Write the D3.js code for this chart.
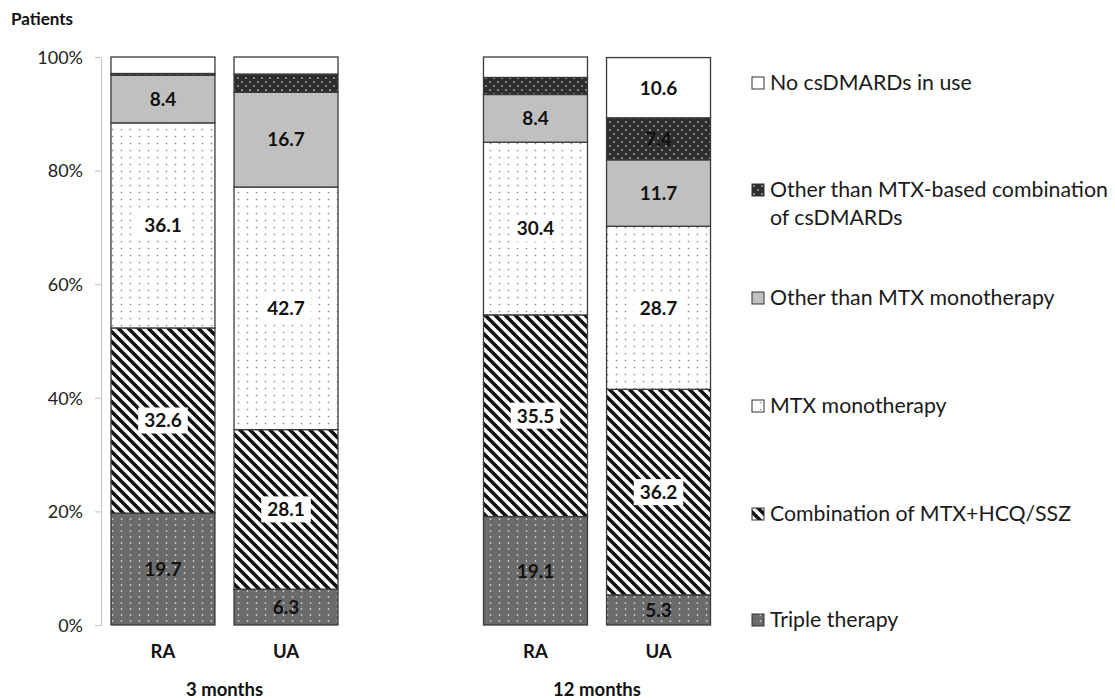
<!DOCTYPE html>
<html>
<head>
<meta charset="utf-8">
<script src="https://cdn.jsdelivr.net/npm/d3@7"></script>
<style>
  html, body { margin: 0; padding: 0; background: #fff; }
  svg { display: block; font-family: Lato, "Open Sans", sans-serif; }
</style>
</head>
<body>
<svg id="chart" width="1115" height="698"></svg>
<script>
// ---- data ----
const periods = ["3 months", "12 months"];
const groups = ["RA", "UA"];
const seriesNames = [
  "Triple therapy",
  "Combination of MTX+HCQ/SSZ",
  "MTX monotherapy",
  "Other than MTX monotherapy",
  "Other than MTX-based combination of csDMARDs",
  "No csDMARDs in use"
];
// order of bars: RA 3m, UA 3m, RA 12m, UA 12m
const tripleTherapy = [19.7, 6.3, 19.1, 5.3];
const combinationMtx = [32.6, 28.1, 35.5, 36.2];
const mtxMonotherapy = [36.1, 42.7, 30.4, 28.7];
const otherMonotherapy = [8.4, 16.7, 8.4, 11.7];
const otherCombination = [0.3, 3.2, 3.0, 7.4];
const noCsdmards = [2.9, 3.0, 3.6, 10.6];
const yTicks = [0, 20, 40, 60, 80, 100];
const legendLines = [
  ["No csDMARDs in use"],
  ["Other than MTX-based combination", "of csDMARDs"],
  ["Other than MTX monotherapy"],
  ["MTX monotherapy"],
  ["Combination of MTX+HCQ/SSZ"],
  ["Triple therapy"]
];

const seriesValues = [tripleTherapy, combinationMtx, mtxMonotherapy, otherMonotherapy, otherCombination, noCsdmards];
const bars = [];
periods.forEach((p, pi) => groups.forEach((g, gi) => {
  const idx = pi * 2 + gi;
  const row = { period: p, group: g };
  seriesNames.forEach((s, si) => row[s] = seriesValues[si][idx]);
  bars.push(row);
}));

const svg = d3.select("#chart");
const defs = svg.append("defs");

// ---- patterns ----
function dotPattern(id, w, h, bg, dotColor, dots, r) {
  const p = defs.append("pattern").attr("id", id).attr("patternUnits", "userSpaceOnUse")
    .attr("width", w).attr("height", h);
  p.append("rect").attr("width", w).attr("height", h).attr("fill", bg);
  dots.forEach(d => p.append("circle").attr("cx", d[0]).attr("cy", d[1]).attr("r", r).attr("fill", dotColor));
}
dotPattern("pTriple", 9, 6, "#6b6b6b", "#e8e8e8", [[4.5, 3]], 0.85);
dotPattern("pMtx", 9, 7, "#ffffff", "#8a8a8a", [[4.5, 3.5]], 0.85);
dotPattern("pOtherCombo", 8, 8, "#2e2e2e", "#d8d8d8", [[2, 2], [6, 6]], 0.85);
const stripe = defs.append("pattern").attr("id", "pCombo").attr("patternUnits", "userSpaceOnUse")
  .attr("width", 10).attr("height", 10);
stripe.append("rect").attr("width", 10).attr("height", 10).attr("fill", "#fff");
stripe.append("path").attr("d", "M-5,5 L5,15 M0,0 L10,10 M5,-5 L15,5")
  .attr("stroke", "#111").attr("stroke-width", 3.6);

const fills = ["url(#pTriple)", "url(#pCombo)", "url(#pMtx)", "#c0c0c0", "url(#pOtherCombo)", "#ffffff"];
const labelBox = [false, true, true, false, false, false];

// ---- scales ----
const y = d3.scaleLinear().domain([0, 100]).range([625, 57]);
const x0 = d3.scaleBand().domain(periods).range([101, 720.5]).paddingInner(0.3906).paddingOuter(0.0268);
const x1 = d3.scaleBand().domain(groups).range([0, x0.bandwidth()]).paddingInner(0.155);

const stack = d3.stack().keys(seriesNames);
const stacked = stack(bars);

// ---- axis ----
const yAxis = d3.axisLeft(y).tickValues(yTicks).tickFormat(d => d + "%").tickSize(6).tickSizeOuter(0);
const ax = svg.append("g").attr("transform", "translate(101,0)").call(yAxis);
ax.select(".domain").attr("stroke", "#c8c8c8").attr("stroke-width", 1.2);
ax.selectAll(".tick line").attr("stroke", "#c8c8c8").attr("stroke-width", 1.2);
ax.selectAll(".tick text").attr("x", -18).attr("dy", "0.35em")
  .attr("font-size", 18).attr("fill", "#222").attr("font-family", "Lato, sans-serif");

svg.append("text").attr("x", 11).attr("y", 25).attr("font-size", 17).attr("font-weight", "bold")
  .attr("fill", "#111").text("Patients");

// ---- bars ----
const layers = svg.append("g").selectAll("g").data(stacked).join("g")
  .attr("fill", (d, i) => fills[i]);
layers.selectAll("rect").data(d => d).join("rect")
  .attr("x", d => x0(d.data.period) + x1(d.data.group))
  .attr("width", x1.bandwidth())
  .attr("y", d => y(d[1]))
  .attr("height", d => y(d[0]) - y(d[1]))
  .attr("stroke", "#3a3a3a").attr("stroke-width", 1.3);

// ---- labels ----
stacked.forEach((layer, si) => {
  layer.forEach(d => {
    const v = d[1] - d[0];
    if (v < 5) return;
    const cx = x0(d.data.period) + x1(d.data.group) + x1.bandwidth() / 2;
    const cy = y((d[0] + d[1]) / 2);
    const txt = seriesValues[si][bars.indexOf(d.data)].toFixed(1);
    const g = svg.append("g");
    const t = g.append("text").attr("x", cx).attr("y", cy).attr("dy", "0.36em")
      .attr("text-anchor", "middle").attr("font-size", 19).attr("font-weight", "bold")
      .attr("fill", "#111").text(txt);
    if (labelBox[si]) {
      const w = t.node().getComputedTextLength();
      g.insert("rect", "text").attr("x", cx - w / 2 - 6).attr("y", cy - 13)
        .attr("width", w + 12).attr("height", 26).attr("fill", "#fff");
    }
  });
});

// ---- x labels ----
bars.forEach(b => {
  svg.append("text").attr("x", x0(b.period) + x1(b.group) + x1.bandwidth() / 2).attr("y", 657.5)
    .attr("text-anchor", "middle").attr("font-size", 18.5).attr("font-weight", "bold")
    .attr("fill", "#111").text(b.group);
});
periods.forEach(p => {
  svg.append("text").attr("x", x0(p) + x0.bandwidth() / 2).attr("y", 695.5)
    .attr("text-anchor", "middle").attr("font-size", 18.5).attr("font-weight", "bold")
    .attr("fill", "#111").text(p);
});

// ---- legend ----
const legendY = [83, 190, 298, 406, 514, 620];
const legendOrder = [5, 4, 3, 2, 1, 0];
legendOrder.forEach((si, li) => {
  const cy = legendY[li];
  svg.append("rect").attr("x", 752).attr("y", cy - 6).attr("width", 12).attr("height", 12)
    .attr("fill", fills[si]).attr("stroke", "#333").attr("stroke-width", 1);
  legendLines[li].forEach((line, k) => {
    svg.append("text").attr("x", 770).attr("y", cy + k * 28).attr("dy", "0.35em")
      .attr("font-size", 21.3).attr("fill", "#1a1a1a").text(line);
  });
});
</script>
</body>
</html>
